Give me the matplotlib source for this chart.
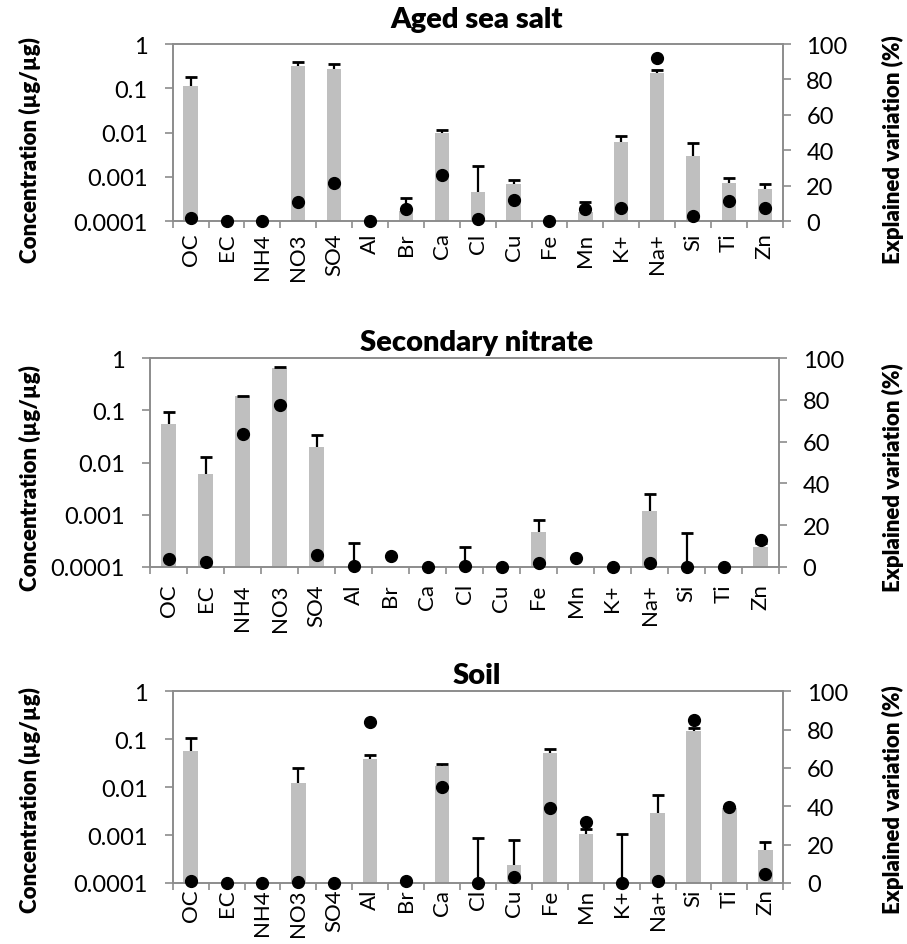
import matplotlib
matplotlib.use('Agg')
import matplotlib.pyplot as plt
import numpy as np

plt.rcParams['font.family'] = ['Lato', 'DejaVu Sans']

species = ['OC', 'EC', 'NH4', 'NO3', 'SO4', 'Al', 'Br', 'Ca', 'Cl', 'Cu',
           'Fe', 'Mn', 'K+', 'Na+', 'Si', 'Ti', 'Zn']

titles = ['Aged sea salt', 'Secondary nitrate', 'Soil']

# concentration (ug/ug), values below 1e-4 fall under the axis floor
sea_conc = [0.111, 0.00003, 0.00003, 0.324, 0.28, 0.00003, 0.00017, 0.0098, 0.00046,
            0.00069, 0.00003, 0.00016, 0.0062, 0.22, 0.003, 0.00074, 0.00053]
sea_sd = [0.066, 0, 0, 0.076, 0.07, 0, 0.00016, 0.0017, 0.00134,
          0.00016, 0, 0.00011, 0.0022, 0.04, 0.0029, 0.00019, 0.00018]
sea_expl = [2.0, 0, 0, 11, 21.6, 0, 6.9, 26, 1.1, 11.8, 0, 6.9, 7.3, 92, 2.8, 11.4, 7.7]

nit_conc = [0.055, 0.0061, 0.185, 0.64, 0.0195, 0.00005, 0.00009, 0.00003, 0.00004,
            0.00003, 0.00047, 0.00009, 0.00003, 0.00115, 0.00005, 0.00003, 0.00024]
nit_sd = [0.038, 0.0069, 0.005, 0.03, 0.0135, 0.000235, 0, 0, 0.0002,
          0, 0.00033, 0, 0, 0.00135, 0.0004, 0, 0.00005]
nit_expl = [3.5, 2.4, 63.5, 77.7, 5.4, 0.3, 5.3, 0, 0.3, 0, 1.8, 4.2, 0, 1.8, 0, 0, 12.8]

soil_conc = [0.057, 0.00003, 0.00003, 0.012, 0.00003, 0.039, 0.00005, 0.027, 0.00005,
             0.00024, 0.052, 0.00107, 0.00005, 0.0029, 0.148, 0.0037, 0.0005]
soil_sd = [0.051, 0, 0, 0.013, 0, 0.008, 0, 0.004, 0.00083,
           0.00054, 0.01, 0.00028, 0.001, 0.0039, 0.022, 0, 0.00022]
soil_expl = [0.9, 0, 0, 0.5, 0, 84, 1.2, 50, 0, 3.1, 39, 32, 0, 0.9, 85, 39.7, 4.7]

conc_sets = [sea_conc, nit_conc, soil_conc]
sd_sets = [sea_sd, nit_sd, soil_sd]
expl_sets = [sea_expl, nit_expl, soil_expl]

W, H = 907, 945
# axes boxes in pixels: left, top, right, bottom
boxes = [(172.7, 45, 782.7, 222.3),
         (150, 359.3, 779, 567.7),
         (172.7, 692.3, 783.3, 884)]
title_y = [20, 343, 676]
label_y = [150, 478, 800]
xpads = [8, 12, 4]

gray = '#8c8c8c'
fig = plt.figure(figsize=(W / 100, H / 100), dpi=100)

for i in range(3):
    l, t, r, b = boxes[i]
    ax = fig.add_axes([l / W, 1 - b / H, (r - l) / W, (b - t) / H])
    x = np.arange(len(species))
    conc = np.array(conc_sets[i])
    sd = np.array(sd_sets[i])

    ax.bar(x, conc, width=0.4, color='#bfbfbf', zorder=2)
    has_err = sd > 0
    ax.vlines(x[has_err], conc[has_err], conc[has_err] + sd[has_err],
              color='black', linewidth=1.6, zorder=3)
    ax.plot(x[has_err], conc[has_err] + sd[has_err], linestyle='none',
            marker='_', markersize=8, markeredgewidth=2, color='black', zorder=3)

    ax.set_yscale('log')
    ax.set_ylim(1e-4, 1)
    ax.set_xlim(-0.5, len(species) - 0.5)
    ax.set_yticks([1e-4, 1e-3, 1e-2, 1e-1, 1])
    ax.set_yticklabels(['0.0001', '0.001', '0.01', '0.1', '1'])
    ax.yaxis.set_minor_locator(matplotlib.ticker.NullLocator())
    ax.set_xticks(x)
    ax.set_xticklabels(species, rotation=90, fontsize=16)
    ax.set_xticks(np.arange(-0.5, len(species), 1), minor=True)
    ax.tick_params(axis='x', which='major', length=0, pad=xpads[i])
    ax.tick_params(axis='x', which='minor', length=5, width=1.2, color=gray)
    ax.tick_params(axis='y', which='major', length=6, width=1.2, color=gray,
                   labelsize=17, pad=12)
    for sp in ax.spines.values():
        sp.set_color(gray)
        sp.set_linewidth(1.2)

    ax2 = ax.twinx()
    ax2.plot(x, expl_sets[i], 'o', color='black', markersize=8.5,
             clip_on=False, zorder=5)
    ax2.set_ylim(0, 100)
    ax2.set_yticks([0, 20, 40, 60, 80, 100])
    ax2.tick_params(axis='y', length=6, width=1.2, color=gray, labelsize=17, pad=11)
    for sp in ax2.spines.values():
        sp.set_color(gray)
        sp.set_linewidth(1.2)

    fig.text(477 / W, 1 - title_y[i] / H, titles[i], ha='center', va='center',
             fontsize=21, fontweight='heavy')
    fig.text(30 / W, 1 - label_y[i] / H, 'Concentration (µg/µg)', rotation=90,
             ha='center', va='center', fontsize=16, fontweight='heavy')
    fig.text(893 / W, 1 - label_y[i] / H, 'Explained variation (%)', rotation=90,
             ha='center', va='center', fontsize=16, fontweight='heavy')

fig.savefig('out.png', dpi=100)
